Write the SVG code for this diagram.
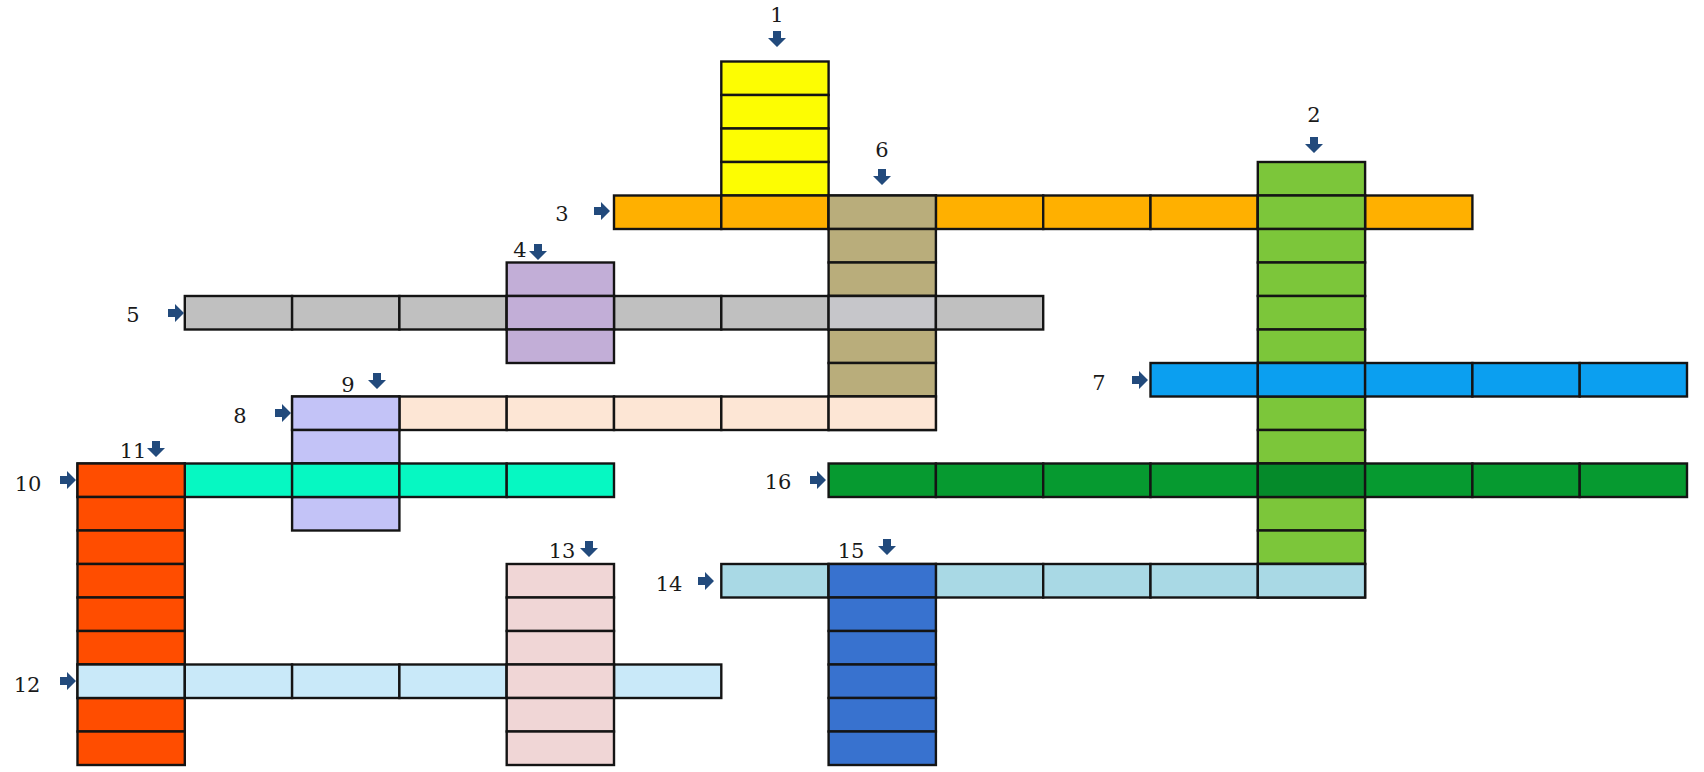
<svg xmlns="http://www.w3.org/2000/svg" xmlns:xlink="http://www.w3.org/1999/xlink" width="1704" height="772" viewBox="0 0 1704 772">
<style>
rect{stroke:#141414;stroke-width:2.4}
.t{font-family:"DejaVu Serif","Liberation Serif",serif;font-size:21px;fill:#1a1a1a;text-anchor:middle}
.yel{fill:#fdfd02}.ora{fill:#ffb000}.tan{fill:#b9ad7b}.grn{fill:#7cc63a}.blu{fill:#0b9ff0}
.dgr{fill:#069a30}.dgx{fill:#058a2a}.gry{fill:#c0c0c0}.gyx{fill:#c6c6ca}.pur{fill:#c2aed7}.lav{fill:#c3c3f7}
.pch{fill:#fde6d5}.tea{fill:#06f8c2}.red{fill:#ff4d00}.lb1{fill:#c9e9f9}.pnk{fill:#f0d6d6}
.lb2{fill:#a9d9e5}.db{fill:#3872cf}
</style>
<defs>
<path id="ad" d="M-4,-8 h8 v7 h5 l-9,9 l-9,-9 h5 z" fill="#224a7c"/>
<path id="ar" d="M-8,-4 v8 h7 v5 l9,-9 l-9,-9 v5 z" fill="#224a7c"/>
</defs>
<rect x="0" y="0" width="1704" height="772" style="fill:#fff;stroke:none"/>

<g id="word-1">
<rect class="yel" x="721.3" y="61.5" width="107.3" height="33.5"/>
<rect class="yel" x="721.3" y="95" width="107.3" height="33.5"/>
<rect class="yel" x="721.3" y="128.5" width="107.3" height="33.5"/>
<rect class="yel" x="721.3" y="162" width="107.3" height="33.5"/>
<text class="t" x="777" y="22">1</text>
<use xlink:href="#ad" x="777" y="39"/>
</g>

<g id="word-3">
<rect class="ora" x="614" y="195.5" width="107.3" height="33.5"/>
<rect class="ora" x="721.3" y="195.5" width="107.3" height="33.5"/>
<rect class="ora" x="828.6" y="195.5" width="107.3" height="33.5"/>
<rect class="ora" x="935.9" y="195.5" width="107.3" height="33.5"/>
<rect class="ora" x="1043.2" y="195.5" width="107.3" height="33.5"/>
<rect class="ora" x="1150.5" y="195.5" width="107.3" height="33.5"/>
<rect class="ora" x="1257.8" y="195.5" width="107.3" height="33.5"/>
<rect class="ora" x="1365.1" y="195.5" width="107.3" height="33.5"/>
<text class="t" x="562" y="221">3</text>
<use xlink:href="#ar" x="602" y="211"/>
</g>

<g id="word-6">
<rect class="tan" x="828.6" y="195.5" width="107.3" height="33.5"/>
<rect class="tan" x="828.6" y="229" width="107.3" height="33.5"/>
<rect class="tan" x="828.6" y="262.5" width="107.3" height="33.5"/>
<rect class="tan" x="828.6" y="296" width="107.3" height="33.5"/>
<rect class="tan" x="828.6" y="329.5" width="107.3" height="33.5"/>
<rect class="tan" x="828.6" y="363" width="107.3" height="33.5"/>
<rect class="tan" x="828.6" y="396.5" width="107.3" height="33.5"/>
<text class="t" x="882" y="157">6</text>
<use xlink:href="#ad" x="882" y="177"/>
</g>

<g id="word-2">
<rect class="grn" x="1257.8" y="162" width="107.3" height="33.5"/>
<rect class="grn" x="1257.8" y="195.5" width="107.3" height="33.5"/>
<rect class="grn" x="1257.8" y="229" width="107.3" height="33.5"/>
<rect class="grn" x="1257.8" y="262.5" width="107.3" height="33.5"/>
<rect class="grn" x="1257.8" y="296" width="107.3" height="33.5"/>
<rect class="grn" x="1257.8" y="329.5" width="107.3" height="33.5"/>
<rect class="grn" x="1257.8" y="363" width="107.3" height="33.5"/>
<rect class="grn" x="1257.8" y="396.5" width="107.3" height="33.5"/>
<rect class="grn" x="1257.8" y="430" width="107.3" height="33.5"/>
<rect class="grn" x="1257.8" y="463.5" width="107.3" height="33.5"/>
<rect class="grn" x="1257.8" y="497" width="107.3" height="33.5"/>
<rect class="grn" x="1257.8" y="530.5" width="107.3" height="33.5"/>
<rect class="grn" x="1257.8" y="564" width="107.3" height="33.5"/>
<text class="t" x="1314" y="122">2</text>
<use xlink:href="#ad" x="1314" y="145"/>
</g>

<g id="word-7">
<rect class="blu" x="1150.5" y="363" width="107.3" height="33.5"/>
<rect class="blu" x="1257.8" y="363" width="107.3" height="33.5"/>
<rect class="blu" x="1365.1" y="363" width="107.3" height="33.5"/>
<rect class="blu" x="1472.4" y="363" width="107.3" height="33.5"/>
<rect class="blu" x="1579.7" y="363" width="107.3" height="33.5"/>
<text class="t" x="1099" y="390">7</text>
<use xlink:href="#ar" x="1140" y="380"/>
</g>

<g id="word-16">
<rect class="dgr" x="828.6" y="463.5" width="107.3" height="33.5"/>
<rect class="dgr" x="935.9" y="463.5" width="107.3" height="33.5"/>
<rect class="dgr" x="1043.2" y="463.5" width="107.3" height="33.5"/>
<rect class="dgr" x="1150.5" y="463.5" width="107.3" height="33.5"/>
<rect class="dgx" x="1257.8" y="463.5" width="107.3" height="33.5"/>
<rect class="dgr" x="1365.1" y="463.5" width="107.3" height="33.5"/>
<rect class="dgr" x="1472.4" y="463.5" width="107.3" height="33.5"/>
<rect class="dgr" x="1579.7" y="463.5" width="107.3" height="33.5"/>
<text class="t" x="778" y="489">16</text>
<use xlink:href="#ar" x="818" y="480"/>
</g>

<g id="word-5">
<rect class="gry" x="184.8" y="296" width="107.3" height="33.5"/>
<rect class="gry" x="292.1" y="296" width="107.3" height="33.5"/>
<rect class="gry" x="399.4" y="296" width="107.3" height="33.5"/>
<rect class="gry" x="506.7" y="296" width="107.3" height="33.5"/>
<rect class="gry" x="614" y="296" width="107.3" height="33.5"/>
<rect class="gry" x="721.3" y="296" width="107.3" height="33.5"/>
<rect class="gyx" x="828.6" y="296" width="107.3" height="33.5"/>
<rect class="gry" x="935.9" y="296" width="107.3" height="33.5"/>
<text class="t" x="133" y="322">5</text>
<use xlink:href="#ar" x="176" y="313"/>
</g>

<g id="word-4">
<rect class="pur" x="506.7" y="262.5" width="107.3" height="33.5"/>
<rect class="pur" x="506.7" y="296" width="107.3" height="33.5"/>
<rect class="pur" x="506.7" y="329.5" width="107.3" height="33.5"/>
<text class="t" x="520" y="257">4</text>
<use xlink:href="#ad" x="538" y="252"/>
</g>

<g id="word-8">
<rect class="lav" x="292.1" y="396.5" width="107.3" height="33.5"/>
<rect class="pch" x="399.4" y="396.5" width="107.3" height="33.5"/>
<rect class="pch" x="506.7" y="396.5" width="107.3" height="33.5"/>
<rect class="pch" x="614" y="396.5" width="107.3" height="33.5"/>
<rect class="pch" x="721.3" y="396.5" width="107.3" height="33.5"/>
<rect class="pch" x="828.6" y="396.5" width="107.3" height="33.5"/>
<text class="t" x="240" y="423">8</text>
<use xlink:href="#ar" x="283" y="413"/>
</g>

<g id="word-9">
<rect class="lav" x="292.1" y="396.5" width="107.3" height="33.5"/>
<rect class="lav" x="292.1" y="430" width="107.3" height="33.5"/>
<rect class="lav" x="292.1" y="463.5" width="107.3" height="33.5"/>
<rect class="lav" x="292.1" y="497" width="107.3" height="33.5"/>
<text class="t" x="348" y="392">9</text>
<use xlink:href="#ad" x="377" y="381"/>
</g>

<g id="word-10">
<rect class="tea" x="77.5" y="463.5" width="107.3" height="33.5"/>
<rect class="tea" x="184.8" y="463.5" width="107.3" height="33.5"/>
<rect class="tea" x="292.1" y="463.5" width="107.3" height="33.5"/>
<rect class="tea" x="399.4" y="463.5" width="107.3" height="33.5"/>
<rect class="tea" x="506.7" y="463.5" width="107.3" height="33.5"/>
<text class="t" x="28" y="491">10</text>
<use xlink:href="#ar" x="68" y="480"/>
</g>

<g id="word-11">
<rect class="red" x="77.5" y="463.5" width="107.3" height="33.5"/>
<rect class="red" x="77.5" y="497" width="107.3" height="33.5"/>
<rect class="red" x="77.5" y="530.5" width="107.3" height="33.5"/>
<rect class="red" x="77.5" y="564" width="107.3" height="33.5"/>
<rect class="red" x="77.5" y="597.5" width="107.3" height="33.5"/>
<rect class="red" x="77.5" y="631" width="107.3" height="33.5"/>
<rect class="red" x="77.5" y="664.5" width="107.3" height="33.5"/>
<rect class="red" x="77.5" y="698" width="107.3" height="33.5"/>
<rect class="red" x="77.5" y="731.5" width="107.3" height="33.5"/>
<text class="t" x="133" y="458">11</text>
<use xlink:href="#ad" x="156" y="449"/>
</g>

<g id="word-12">
<rect class="lb1" x="77.5" y="664.5" width="107.3" height="33.5"/>
<rect class="lb1" x="184.8" y="664.5" width="107.3" height="33.5"/>
<rect class="lb1" x="292.1" y="664.5" width="107.3" height="33.5"/>
<rect class="lb1" x="399.4" y="664.5" width="107.3" height="33.5"/>
<rect class="lb1" x="506.7" y="664.5" width="107.3" height="33.5"/>
<rect class="lb1" x="614" y="664.5" width="107.3" height="33.5"/>
<text class="t" x="27" y="692">12</text>
<use xlink:href="#ar" x="68" y="681"/>
</g>

<g id="word-13">
<rect class="pnk" x="506.7" y="564" width="107.3" height="33.5"/>
<rect class="pnk" x="506.7" y="597.5" width="107.3" height="33.5"/>
<rect class="pnk" x="506.7" y="631" width="107.3" height="33.5"/>
<rect class="pnk" x="506.7" y="664.5" width="107.3" height="33.5"/>
<rect class="pnk" x="506.7" y="698" width="107.3" height="33.5"/>
<rect class="pnk" x="506.7" y="731.5" width="107.3" height="33.5"/>
<text class="t" x="562" y="558">13</text>
<use xlink:href="#ad" x="589" y="549"/>
</g>

<g id="word-14">
<rect class="lb2" x="721.3" y="564" width="107.3" height="33.5"/>
<rect class="lb2" x="828.6" y="564" width="107.3" height="33.5"/>
<rect class="lb2" x="935.9" y="564" width="107.3" height="33.5"/>
<rect class="lb2" x="1043.2" y="564" width="107.3" height="33.5"/>
<rect class="lb2" x="1150.5" y="564" width="107.3" height="33.5"/>
<rect class="lb2" x="1257.8" y="564" width="107.3" height="33.5"/>
<text class="t" x="669" y="591">14</text>
<use xlink:href="#ar" x="706" y="581"/>
</g>

<g id="word-15">
<rect class="db" x="828.6" y="564" width="107.3" height="33.5"/>
<rect class="db" x="828.6" y="597.5" width="107.3" height="33.5"/>
<rect class="db" x="828.6" y="631" width="107.3" height="33.5"/>
<rect class="db" x="828.6" y="664.5" width="107.3" height="33.5"/>
<rect class="db" x="828.6" y="698" width="107.3" height="33.5"/>
<rect class="db" x="828.6" y="731.5" width="107.3" height="33.5"/>
<text class="t" x="851" y="558">15</text>
<use xlink:href="#ad" x="887" y="547"/>
</g>

<g id="connectors"></g>
</svg>
